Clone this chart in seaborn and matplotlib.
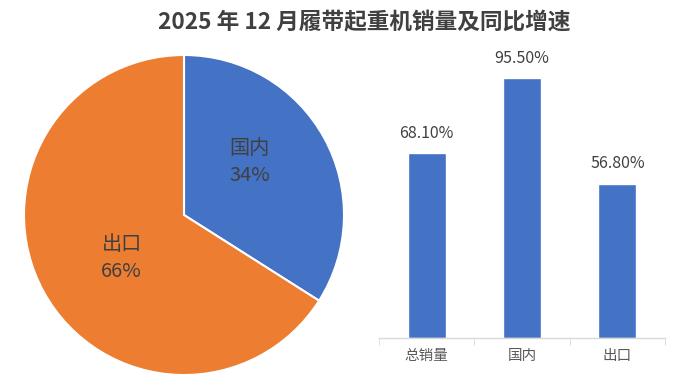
import matplotlib
matplotlib.use("Agg")
import matplotlib.pyplot as plt
import seaborn as sns
import pandas as pd

# ---- data ----
title = "2025 年 12 月履带起重机销量及同比增速"
pie_labels = ["国内", "出口"]
pie_shares = [34, 66]
pie_colors = ["#4472C4", "#ED7D31"]

bar_categories = ["总销量", "国内", "出口"]
bar_growth = [68.10, 95.50, 56.80]
bar_color = "#4472C4"

sns.set_style("white")
plt.rcParams["font.family"] = ["Noto Sans CJK SC", "DejaVu Sans"]

fig = plt.figure(figsize=(6.84, 3.81), dpi=100)

# ---- pie ----
ax_pie = fig.add_axes([24 / 684, 6 / 381, 320 / 684, 320 / 381])
wedges, _ = ax_pie.pie(
    pie_shares, colors=pie_colors, startangle=90, counterclock=False,
    radius=1.0, wedgeprops=dict(edgecolor="white", linewidth=1.5),
)
ax_pie.set_xlim(-1.0, 1.0)
ax_pie.set_ylim(-1.0, 1.0)
ax_pie.set_aspect("equal")
ax_pie.axis("off")
label_pos = [(0.41, 0.33), (-0.39, -0.27)]
for (x, y), lab, val in zip(label_pos, pie_labels, pie_shares):
    ax_pie.text(x, y, f"{lab}\n{val}%", ha="center", va="center",
                fontsize=14.5, color="#404040", linespacing=1.4)

# ---- bars ----
df = pd.DataFrame({"cat": bar_categories, "val": bar_growth})
ax_bar = fig.add_axes([379 / 684, 43 / 381, 286 / 684, 299 / 381])
sns.barplot(data=df, x="cat", y="val", ax=ax_bar, color=bar_color,
            saturation=1, width=0.4)
ax_bar.set_xlim(-0.5, len(bar_categories) - 0.5)
ax_bar.set_ylim(0, 110)
ax_bar.set_xlabel("")
ax_bar.set_ylabel("")
ax_bar.set_yticks([])
for s in ["top", "right", "left"]:
    ax_bar.spines[s].set_visible(False)
ax_bar.spines["bottom"].set_color("#D9D9D9")
ax_bar.spines["bottom"].set_linewidth(1.0)
ax_bar.tick_params(axis="x", which="major", length=0, labelsize=10.5,
                   labelcolor="#595959", pad=8)
ax_bar.set_xticks([i - 0.5 for i in range(len(bar_categories) + 1)], minor=True)
ax_bar.tick_params(axis="x", which="minor", length=5, color="#D9D9D9",
                   direction="out", bottom=True)
for cont in ax_bar.containers:
    ax_bar.bar_label(cont, labels=[f"{v:.2f}%" for v in bar_growth],
                     padding=8, fontsize=11.5, color="#404040")

fig.text(0.532, 0.942, title, ha="center", va="center", fontsize=16.3,
         fontweight="bold", color="#404040")

fig.savefig("out.png", dpi=100)
